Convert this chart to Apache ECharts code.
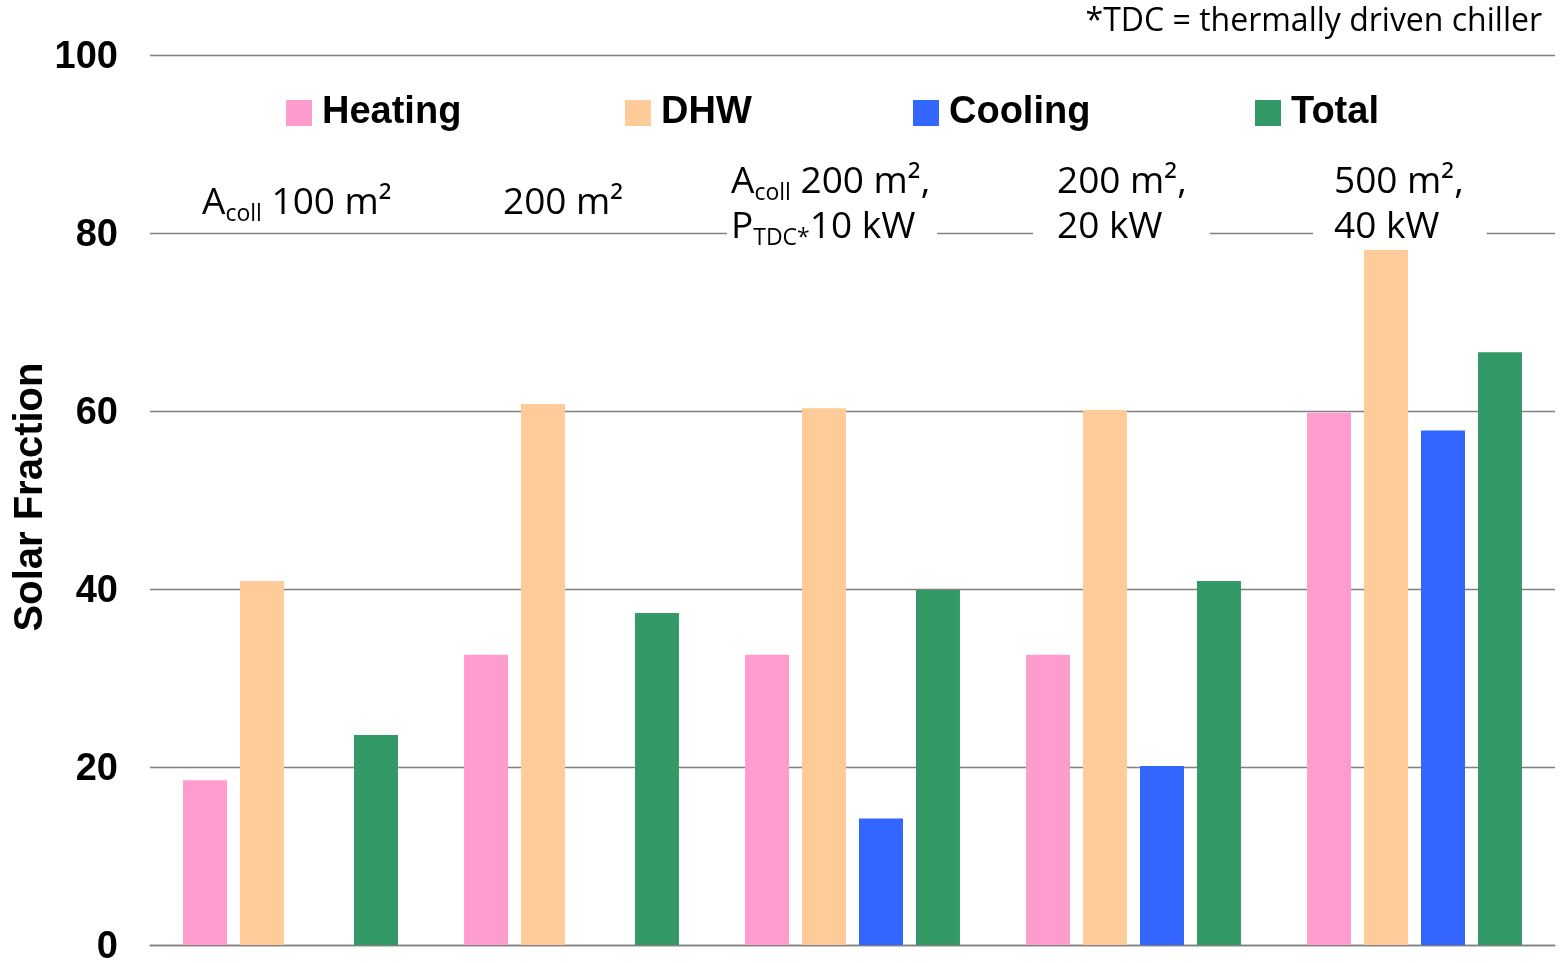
<!DOCTYPE html>
<html>
<head>
<meta charset="utf-8">
<script src="https://cdn.jsdelivr.net/npm/echarts@6/dist/echarts.min.js"></script>
<style>
  html, body { margin: 0; padding: 0; background: #fff; }
  #chart { width: 1565px; height: 963px; }
</style>
</head>
<body>
<div id="chart"></div>
<script>
// Solar fraction per system configuration
const categories = ['100 m²', '200 m²', '200 m², 10 kW', '200 m², 20 kW', '500 m², 40 kW'];
const seriesNames = ['Heating', 'DHW', 'Cooling', 'Total'];
const heating = [18.5, 32.6, 32.6, 32.6, 59.8];
const dhw     = [40.9, 60.8, 60.3, 60.1, 78.2];
const cooling = [null, null, 14.2, 20.1, 57.8];
const total   = [23.6, 37.3, 39.9, 40.9, 66.6];
const yTicks  = [0, 20, 40, 60, 80, 100];
const yTitle  = 'Solar Fraction';

// Configuration captions shown above each group (rich text: a = normal, s = subscript)
const groupCaptions = [
  '{a|A}{s|coll}{a| 100 m²}',
  '{a|200 m²}',
  '{a|A}{s|coll}{a| 200 m²,}\n{a|P}{s|TDC*}{a|10 kW}',
  '{a|200 m²,}\n{a|20 kW}',
  '{a|500 m²,}\n{a|40 kW}'
];
const noteText = '*TDC = thermally driven chiller';

// Caption layout: left offset from group centre, line count, white backing padding
const captionLayout = [
  { dx: -88.5,  lines: 1, pad: null },
  { dx: -68.5,  lines: 1, pad: null },
  { dx: -121.5, lines: 2, pad: [0, 7, 0, 4] },
  { dx: -76.5,  lines: 2, pad: [0, 23, 0, 24] },
  { dx: -80.5,  lines: 2, pad: [0, 23, 0, 21] }
];
const legendLefts = [286, 625, 913, 1255];
const colors = ['#FF9CCE', '#FFCC99', '#3366FF', '#339966'];

const captionFont = '"Open Sans", "Noto Sans", sans-serif';
const boldFont = '"Liberation Sans", Arial, sans-serif';

const chart = echarts.init(document.getElementById('chart'), null, { renderer: 'canvas' });

const legends = seriesNames.map(function (name, i) {
  return {
    left: legendLefts[i],
    top: 94,
    padding: 0,
    itemWidth: 26,
    itemHeight: 26,
    icon: 'rect',
    selectedMode: false,
    textStyle: {
      fontFamily: boldFont,
      fontWeight: 'bold',
      fontSize: 38,
      color: '#000',
      padding: [0, 0, 0, 5]
    },
    data: [name]
  };
});

const valueLists = [heating, dhw, cooling, total];
const series = seriesNames.map(function (name, i) {
  return {
    name: name,
    type: 'bar',
    data: valueLists[i],
    barWidth: 44,
    barGap: '29.5%',
    itemStyle: { color: colors[i] },
    z: 3
  };
});

chart.setOption({
  animation: false,
  backgroundColor: '#fff',
  grid: { left: 150, right: 10, top: 55, bottom: 18, containLabel: false, outerBoundsMode: 'none' },
  legend: legends,
  xAxis: {
    type: 'category',
    data: categories,
    axisTick: { show: false },
    axisLabel: { show: false },
    axisLine: { show: true, lineStyle: { color: '#808080', width: 1.3 } },
    z: 1
  },
  yAxis: {
    type: 'value',
    min: yTicks[0],
    max: yTicks[yTicks.length - 1],
    interval: 20,
    axisLine: { show: false },
    axisTick: { show: false },
    axisLabel: {
      margin: 32,
      formatter: '{v|{value}}',
      rich: {
        v: {
          padding: [6, 0, 0, 0],
          fontFamily: boldFont,
          fontWeight: 'bold',
          fontSize: 38,
          color: '#000'
        }
      }
    },
    splitLine: { show: true, lineStyle: { color: '#808080', width: 1.3 } }
  },
  series: series
});

// Place the group captions relative to the category positions and the 80 gridline
const y80 = chart.convertToPixel({ yAxisIndex: 0 }, 80);
const yMid = chart.convertToPixel({ yAxisIndex: 0 }, 50);
const richStyles = {
  a: { fontFamily: captionFont, fontSize: 37, lineHeight: 45, color: '#000' },
  s: { fontFamily: captionFont, fontSize: 23, lineHeight: 13, verticalAlign: 'bottom', color: '#000' }
};

const graphics = groupCaptions.map(function (text, i) {
  const cx = chart.convertToPixel({ xAxisIndex: 0 }, categories[i]);
  const lay = captionLayout[i];
  const pad = lay.pad || [0, 0, 0, 0];
  const top = y80 + (lay.lines === 1 ? -52 : -73);
  const style = {
    text: text,
    rich: richStyles,
    align: 'left',
    verticalAlign: 'top',
    fontFamily: captionFont,
    fontSize: 37,
    lineHeight: 45,
    fill: '#000'
  };
  if (lay.pad) {
    style.backgroundColor = '#fff';
    style.padding = pad;
  }
  return {
    type: 'text',
    x: cx + lay.dx - pad[3],
    y: top - pad[0],
    z: 10,
    style: style
  };
});

// Rotated y-axis title
graphics.push({
  type: 'text',
  x: 31,
  y: yMid - 3,
  rotation: Math.PI / 2,
  z: 10,
  style: {
    text: yTitle,
    align: 'center',
    verticalAlign: 'middle',
    fontFamily: boldFont,
    fontWeight: 'bold',
    fontSize: 40,
    fill: '#000'
  }
});

graphics.push({
  type: 'text',
  x: 1542,
  y: 22,
  z: 10,
  style: {
    text: noteText,
    align: 'right',
    verticalAlign: 'middle',
    fontFamily: captionFont,
    fontSize: 32,
    fill: '#000'
  }
});

chart.setOption({ graphic: graphics });
</script>
</body>
</html>
